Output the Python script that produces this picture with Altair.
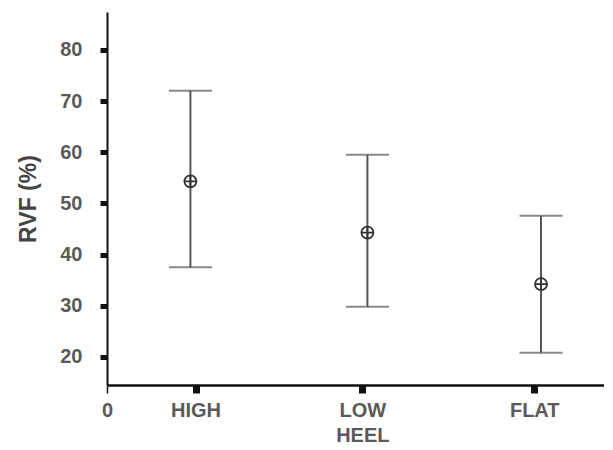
import altair as alt
import pandas as pd

categories = ["HIGH", "LOW HEEL", "FLAT"]
cat_pos = [0.52, 1.5, 2.51]
bar_pos = [0.49, 1.53, 2.55]
means = [54.3, 44.3, 34.2]
upper = [72.0, 59.5, 47.6]
lower = [37.5, 29.8, 20.8]
y_ticks = [20, 30, 40, 50, 60, 70, 80]

df = pd.DataFrame({"cat": categories, "x": bar_pos, "mean": means, "hi": upper, "lo": lower})

# label expression built from the arrays
parts = []
for c, p in zip(categories, cat_pos):
    lines = c.split(" ")
    lab = "[" + ",".join("'" + l + "'" for l in lines) + "]" if len(lines) > 1 else "'" + c + "'"
    parts.append((p, lab))
expr = "'0'"
for p, lab in reversed(parts):
    expr = f"abs(datum.value - {p}) < 0.01 ? {lab} : " + expr

x_scale = alt.Scale(domain=[0, 2.92], nice=False, zero=False)
y_scale = alt.Scale(domain=[14.5, 87.4], nice=False, zero=False)

FONT = "Liberation Sans"

x_axis = alt.Axis(
    values=[0] + cat_pos, labelExpr=expr, title=None, grid=False,
    domainColor="#111", domainWidth=2.5, tickColor="#111",
    tickSize=8, tickWidth={"condition": {"test": "datum.value == 0", "value": 1.5}, "value": 7},
    labelFont=FONT, labelFontSize=20, labelFontWeight="bold", labelColor="#5a5a5a", labelPadding=7,
    labelLineHeight=25, labelBaseline="top", labelAlign="center", labelFlush=False,
)
y_axis = alt.Axis(
    values=y_ticks, title="RVF (%)", grid=False,
    domainColor="#111", domainWidth=2, tickColor="#111", tickSize=7, tickWidth=5,
    labelFont=FONT, labelFontSize=20, labelFontWeight="bold", labelColor="#5a5a5a", labelPadding=18,
    titleFont=FONT, titleFontSize=23, titleFontWeight="bold", titleColor="#444",
    titlePadding=19,
)

base = alt.Chart(df)

rule = base.mark_rule(color="#555", strokeWidth=2).encode(
    x=alt.X("x:Q", scale=x_scale, axis=x_axis),
    y=alt.Y("lo:Q", scale=y_scale, axis=y_axis),
    y2="hi:Q",
)
cap_hi = base.mark_tick(color="#555", orient="horizontal", size=43, thickness=2).encode(
    x=alt.X("x:Q", scale=x_scale), y=alt.Y("hi:Q", scale=y_scale)
)
cap_lo = base.mark_tick(color="#555", orient="horizontal", size=43, thickness=2).encode(
    x=alt.X("x:Q", scale=x_scale), y=alt.Y("lo:Q", scale=y_scale)
)
pts = base.mark_point(
    shape="M-1,0A1,1 0 1,1 1,0A1,1 0 1,1 -1,0M-1,0L1,0M0,-1L0,1",
    filled=False, stroke="#333", strokeWidth=1.8, size=144, opacity=1,
).encode(x=alt.X("x:Q", scale=x_scale), y=alt.Y("mean:Q", scale=y_scale))

chart = alt.layer(rule, cap_hi, cap_lo, pts).properties(
    width=497, height=373,
    autosize=alt.AutoSizeParams(type="none"),
    padding={"left": 99, "top": 4, "right": 0, "bottom": 62},
    background="white",
).configure_view(stroke=None)

chart.save("out.html", embed_options={"renderer": "svg", "actions": False})
